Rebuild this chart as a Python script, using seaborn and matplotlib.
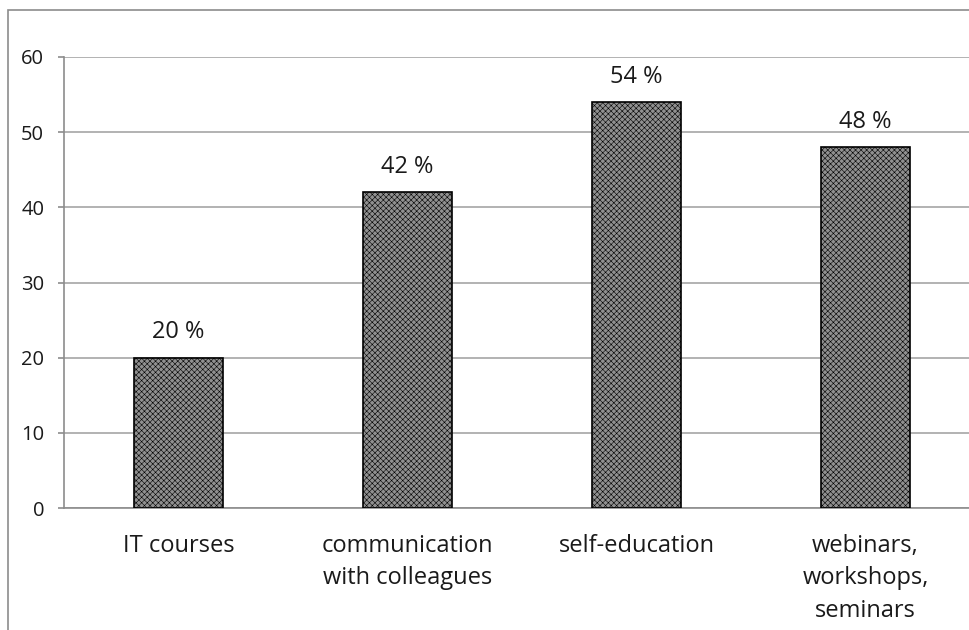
import matplotlib
matplotlib.use("Agg")
import matplotlib.pyplot as plt
import seaborn as sns
import pandas as pd
from matplotlib.patches import Rectangle

categories = ["IT courses", "communication\nwith colleagues", "self-education",
              "webinars,\nworkshops,\nseminars"]
values = [20, 42, 54, 48]
labels = ["20 %", "42 %", "54 %", "48 %"]
yticks = [0, 10, 20, 30, 40, 50, 60]

sns.set_theme(style="white")
plt.rcParams['font.family'] = ['Open Sans', 'DejaVu Sans']
plt.rcParams['hatch.linewidth'] = 0.4
plt.rcParams['hatch.color'] = 'black'

fig = plt.figure(figsize=(9.7, 6.3), dpi=100)
fig.patch.set_facecolor("white")
W, H = 970, 630
fig.add_artist(Rectangle((8 / W, -0.1), 1.2, (630 - 10) / H + 0.1, transform=fig.transFigure,
                         fill=False, edgecolor="#8c8c8c", linewidth=1.2))

ax = fig.add_axes([64 / W, 1 - 508 / H, 916 / W, (508 - 57) / H])
df = pd.DataFrame({"cat": categories, "val": values})
sns.barplot(data=df, x="cat", y="val", ax=ax, color="#909090", width=0.39,
            edgecolor="black", linewidth=1.2, hatch="xxxxxx", saturation=1, zorder=3)

for p, lab in zip(ax.patches, labels):
    ax.text(p.get_x() + p.get_width() / 2, p.get_height() + 3.4, lab,
            ha="center", va="center", fontsize=17, color="#1a1a1a")

ax.set_ylim(0, 60)
ax.set_xlim(-0.5, 3.5)
ax.set_yticks(yticks)
ax.set_yticklabels([str(t) for t in yticks], fontsize=14.5, color="#1a1a1a")
ax.yaxis.grid(True, color="#a6a6a6", linewidth=1.2, zorder=0)
ax.set_axisbelow(True)
ax.set_xlabel("")
ax.set_ylabel("")
ax.set_xticks(range(len(categories)))
ax.set_xticklabels(categories, fontsize=17, color="#1a1a1a", linespacing=1.45)
ax.tick_params(axis="x", which="major", length=0, pad=19)
ax.set_xticks([-0.5, 0.5, 1.5, 2.5, 3.5], minor=True)
ax.tick_params(axis="x", which="minor", length=5, width=1.2, color="#8c8c8c", direction="out")
ax.tick_params(axis="y", length=4.3, width=1.2, color="#8c8c8c", direction="out", pad=10, left=True)
for s in ["top", "right"]:
    ax.spines[s].set_visible(False)
for s in ["left", "bottom"]:
    ax.spines[s].set_color("#8c8c8c")
    ax.spines[s].set_linewidth(1.2)

fig.savefig("out.png", dpi=100)
